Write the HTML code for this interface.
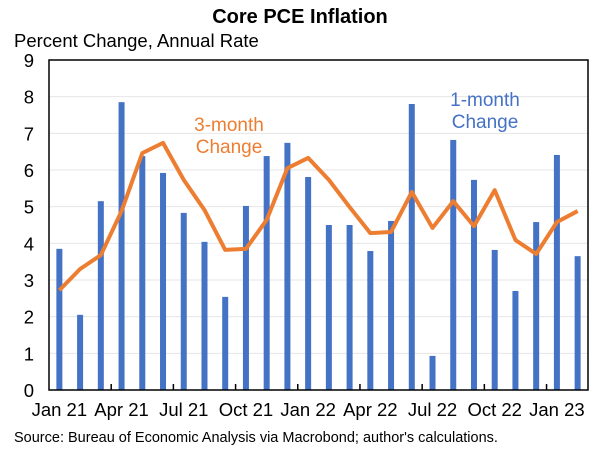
<!DOCTYPE html>
<html><head><meta charset="utf-8"><style>
body{margin:0;background:#fff;font-family:"Liberation Sans",Arial,sans-serif}
</style></head><body>
<svg id="chart" width="600" height="450" xmlns="http://www.w3.org/2000/svg" font-family="Liberation Sans, Arial, sans-serif">
<text x="300" y="23" text-anchor="middle" font-size="20" font-weight="bold">Core PCE Inflation</text>
<text x="14" y="47" font-size="18.5">Percent Change, Annual Rate</text>
<g id="grid"></g><g id="bars"></g><g id="line"></g><g id="axes"></g>
<text x="229" y="131" text-anchor="middle" font-size="19" fill="#ED7D31">3-month</text>
<text x="229" y="153" text-anchor="middle" font-size="19" fill="#ED7D31">Change</text>
<text x="485" y="106" text-anchor="middle" font-size="19" fill="#4472C4">1-month</text>
<text x="485" y="128" text-anchor="middle" font-size="19" fill="#4472C4">Change</text>
<text x="14" y="442" font-size="14.5">Source: Bureau of Economic Analysis via Macrobond; author's calculations.</text>
</svg>
<script>
const months = ["Jan 21","Feb 21","Mar 21","Apr 21","May 21","Jun 21","Jul 21","Aug 21","Sep 21","Oct 21","Nov 21","Dec 21","Jan 22","Feb 22","Mar 22","Apr 22","May 22","Jun 22","Jul 22","Aug 22","Sep 22","Oct 22","Nov 22","Dec 22","Jan 23","Feb 23"];
const oneMonth = [3.85,2.05,5.15,7.85,6.38,5.92,4.83,4.04,2.54,5.02,6.38,6.74,5.81,4.5,4.5,3.79,4.61,7.8,0.93,6.82,5.73,3.82,2.7,4.58,6.41,3.65];
const threeMonth = [2.72,3.3,3.68,4.88,6.46,6.74,5.73,4.91,3.82,3.85,4.64,6.05,6.33,5.73,4.99,4.28,4.31,5.4,4.42,5.15,4.47,5.45,4.09,3.71,4.58,4.88];
const yTicks = [0,1,2,3,4,5,6,7,8,9];
const xLabelIdx = [0,3,6,9,12,15,18,21,24];
const L=49,R=588,T=60,B=390,yMax=9;
const NS="http://www.w3.org/2000/svg";
const band=(R-L)/months.length;
const x=i=>L+band*(i+0.5);
const y=v=>B-(v/yMax)*(B-T);
function mk(tag,attrs,parent){const e=document.createElementNS(NS,tag);for(const k in attrs)e.setAttribute(k,attrs[k]);document.getElementById(parent).appendChild(e);return e;}
yTicks.forEach(t=>{
  if(t>0&&t<yMax){const g=mk("line",{x1:L,x2:R,y1:y(t),y2:y(t),stroke:"#e6e6e6","stroke-width":1},"grid");
  
  }
  const tx=mk("text",{x:34,y:y(t)+7,"text-anchor":"end","font-size":18.5},"axes");
  tx.textContent=t;
  
  
});
oneMonth.forEach((v,i)=>{
  const r=mk("rect",{x:x(i)-3,y:y(v),width:6,height:B-y(v),fill:"#4472C4"},"bars");
  
  
});
const pl=mk("polyline",{points:threeMonth.map((v,i)=>x(i)+","+y(v)).join(" "),fill:"none",stroke:"#ED7D31","stroke-width":4,"stroke-linejoin":"round"},"line");


const fr=mk("rect",{x:L,y:T,width:R-L,height:B-T,fill:"none",stroke:"#000","stroke-width":1.5},"axes");


xLabelIdx.forEach(i=>{
  if(i>0){const tk=mk("line",{x1:L+band*i,x2:L+band*i,y1:B,y2:B-6,stroke:"#000","stroke-width":1.5},"axes");
  
  }
  const tx=mk("text",{x:x(i),y:B+26,"text-anchor":"middle","font-size":18.5},"axes");
  tx.textContent=months[i];
  
  
});
</script>
</body></html>
